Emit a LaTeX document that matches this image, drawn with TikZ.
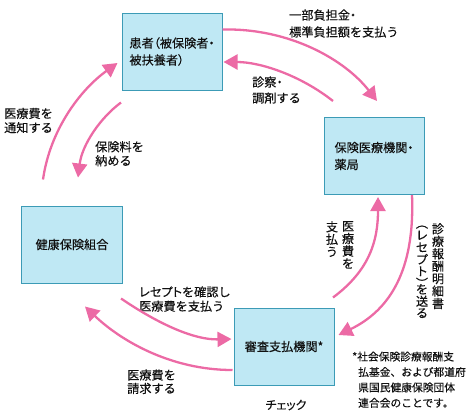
\documentclass[tikz,border=0pt]{standalone}
\usepackage{fontspec}
\usepackage{graphicx}
\setmainfont{Noto Sans CJK JP}[FakeBold=0.25]
\newfontfamily\pp{Noto Sans CJK JP}[RawFeature=+palt,FakeBold=0.25]
\newfontfamily\vjp{Noto Sans CJK JP}[FakeBold=0.25]
\newcommand{\vch}[2]{\hbox to 13bp{\hss\vbox to #1{\vss\hbox{#2}\vss}\hss}}
\newcommand{\vlp}{\rotatebox[origin=c]{-90}{（}}
\newcommand{\vrp}{\rotatebox[origin=c]{-90}{）}}
\usetikzlibrary{arrows.meta,calc}
\definecolor{boxfill}{HTML}{BFE8F4}
\definecolor{boxline}{HTML}{3C9BB6}
\definecolor{pinkarrow}{HTML}{EC6AA5}
\definecolor{txt}{HTML}{111111}
\begin{document}
\begin{tikzpicture}[x=1bp,y=-1bp,
  box/.style={draw=boxline, fill=boxfill, line width=1bp, minimum width=100bp,
    minimum height=77bp, inner sep=0pt, text=txt, font=\fontsize{12.2}{17}\selectfont},
  lbl/.style={anchor=west, align=left, inner sep=0pt, text=txt},
  conn/.style={draw=pinkarrow, line width=2.3bp, -{Triangle[length=14bp,width=15bp]}},
  vtext/.style={anchor=north, align=center, inner sep=0pt, text=txt}]
\useasboundingbox (0,0) rectangle (470,419);
% boxes
\node[box, align=left] (p) at (172,51.5) {患者{\pp（}被保険者{\pp・}\\被扶養者{\pp）}};
\node[box, align=left] (h) at (374,156) {保険医療機関{\pp・}\\薬局};
\node[box] (k) at (72,244.5) {健康保険組合};
\node[box] (s) at (284,346.5) {審査支払機関{\pp*}};
% labels
\node[lbl, font=\fontsize{12.2}{17}\selectfont] (l1) at (289,23.5) {一部負担金{\pp・}\\標準負担額を支払う};
\node[lbl, font=\fontsize{12.2}{16}\selectfont] (l2) at (252,90) {診察{\pp・}\\調剤する};
\node[lbl, font=\fontsize{12.2}{14.3}\selectfont] (l3) at (4,120.5) {医療費を\\通知する};
\node[lbl, font=\fontsize{12.2}{14}\selectfont] (l4) at (95,153.7) {保険料を\\納める};
\node[lbl, font=\fontsize{12.2}{14.3}\selectfont] (l5) at (139,299) {{\pp レセプト}を確認し\\医療費を支払う};
\node[lbl, font=\fontsize{12.2}{13.5}\selectfont] (l6) at (127,381.7) {医療費を\\請求する};
\node[inner sep=0pt, text=txt, font=\pp\fontsize{12}{14}\selectfont] (l7) at (286,405) {チェック};
\node[lbl, font=\fontsize{10.8}{15.5}\selectfont] (fn) at (352,379.7)
  {{\pp*}社会保険診療報酬支\\\hspace{6bp}払基金、および都道府\\\hspace{6bp}県国民健康保険団体\\\hspace{6bp}連合会のことです。};
% vertical labels
\node[vtext, font=\vjp\fontsize{12.2}{12.5}\selectfont] (v1) at (348,221) {医\\療\\費\\を};
\node[vtext, font=\vjp\fontsize{12.2}{12.5}\selectfont] (v2) at (332,221) {支\\払\\う};
\node[vtext, font=\vjp\fontsize{12.2}{12.5}\selectfont] (v3) at (438,223) {診\\療\\報\\酬\\明\\細\\書};
\node[vtext, font=\vjp\fontsize{12.2}{12.5}\selectfont] (v4) at (422,217)
  {\vbox{\offinterlineskip
    \vch{12bp}{\vlp}\vch{12bp}{レ}\vch{12bp}{セ}\vch{12bp}{プ}\vch{12bp}{ト}%
    \vch{12bp}{\vrp}\kern-6bp
    \vch{12bp}{を}\vch{12bp}{送}\vch{12bp}{る}}};
% connectors
\draw[conn] ($(p.north east)+(0,17)$) .. controls (290,28) and (345,60) .. ($(h.north)+(3,-16)$);
\draw[conn] ($(h.north)+(-41,-16)$) .. controls (300,75) and (260,62) .. ($(p.east)+(1,10.5)$);
\draw[conn] ($(h.south)+(38,0)$) .. controls (415,270) and (390,310) .. ($(s.east)+(4,-11.5)$);
\draw[conn] ($(s.north)+(49,-10)$) .. controls (370,270) and (378,240) .. ($(h.south)+(4,2)$);
\draw[conn] ($(k.south)+(49,15)$) .. controls (160,325) and (195,340) .. ($(s.west)+(-2,-7.5)$);
\draw[conn] ($(s.west)+(-1,23.5)$) .. controls (170,370) and (120,340) .. ($(k.south)+(13,23)$);
\draw[conn] ($(k.north)+(-29,-26)$) .. controls (50,130) and (80,90) .. ($(p.west)+(-4,11.5)$);
\draw[conn] ($(p.south)+(-51,12)$) .. controls (100,118) and (82,145) .. ($(k.north)+(6,-28)$);
\end{tikzpicture}
\end{document}
